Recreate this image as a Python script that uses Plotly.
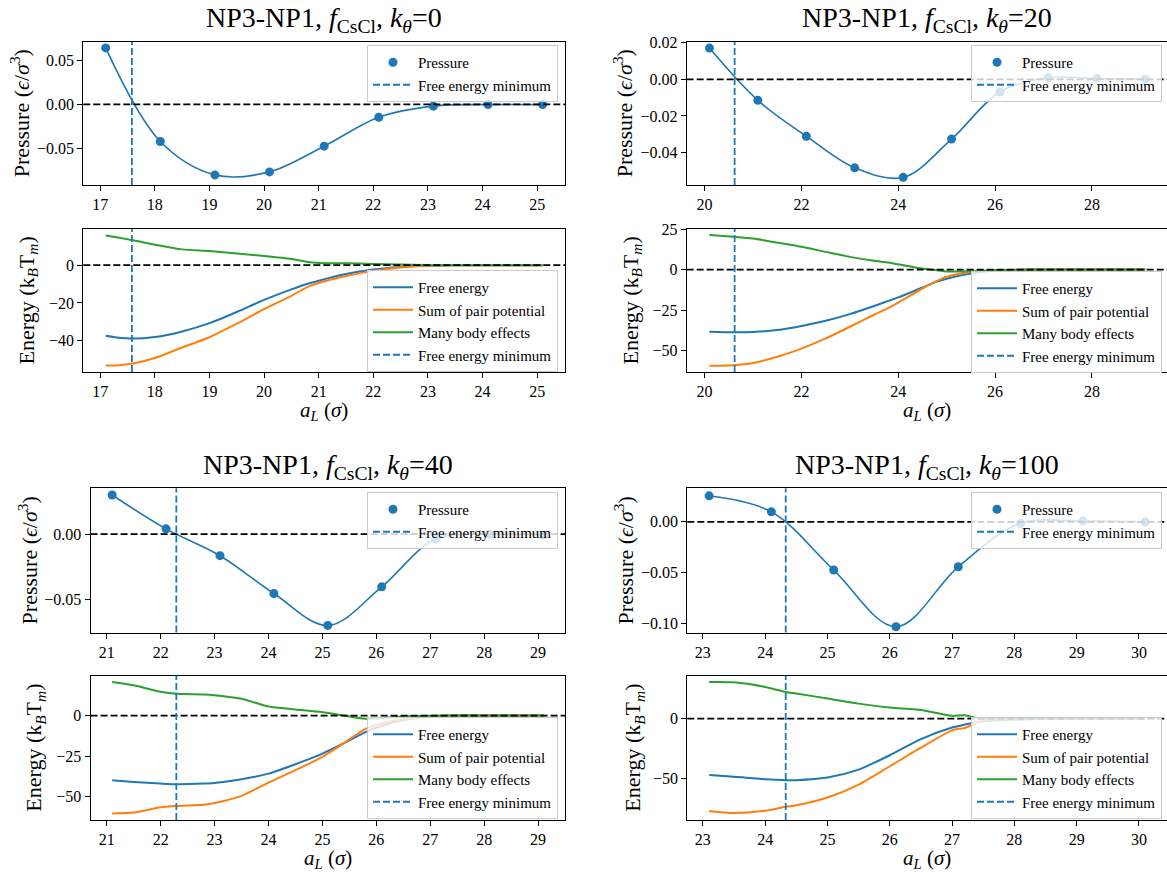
import plotly.graph_objects as go

W, H = 1167, 873
BLUE, ORANGE, GREEN = "#1f77b4", "#ff7f0e", "#2ca02c"
FONT = "'Liberation Serif', 'Times New Roman', serif"

# ---------------- data ----------------
k_theta = ["0", "20", "40", "100"]

# panel 1 (k_theta = 0)
p1_x = [17.1, 18.1, 19.1, 20.1, 21.1, 22.1, 23.1, 24.1, 25.1]
p1_pressure = [0.0637, -0.0419, -0.0796, -0.0762, -0.0472, -0.0145, -0.0020, -0.0003, -0.0003]
p1_min = 17.58
p1_ex = [17.1, 17.3, 17.6, 18.0, 18.5, 19.0, 19.5, 20.0, 20.5, 20.8, 21.0, 21.5, 22.0, 22.5, 23.0, 23.5, 24.0, 24.5, 25.1]
p1_free = [-37.4, -38.3, -38.9, -38.1, -35.1, -30.7, -24.8, -18.4, -12.8, -9.8, -8.2, -4.7, -2.3, -0.9, -0.2, 0.0, 0.0, 0.0, 0.0]
p1_pair = [-53.2, -53.1, -52.1, -49.2, -43.6, -38.2, -31.0, -23.3, -16.2, -11.5, -9.4, -5.7, -3.0, -1.2, -0.3, 0.0, 0.0, 0.0, 0.0]
p1_many = [15.8, 14.8, 13.2, 10.9, 8.4, 7.5, 6.2, 4.9, 3.3, 1.7, 1.2, 1.0, 0.7, 0.35, 0.05, 0.0, 0.0, 0.0, 0.0]

# panel 2 (k_theta = 20)
p2_x = [20.1, 21.1, 22.1, 23.1, 24.1, 25.1, 26.1, 27.1, 28.1, 29.1]
p2_pressure = [0.0171, -0.0115, -0.0311, -0.0484, -0.0536, -0.0327, -0.0069, 0.0009, 0.0004, 0.0001]
p2_min = 20.62
p2_ex = [20.1, 20.6, 21.0, 21.5, 22.0, 22.5, 23.0, 23.5, 23.8, 24.0, 24.5, 24.8, 25.0, 25.5, 26.0, 26.5, 27.0, 28.0, 29.1]
p2_free = [-38.3, -38.7, -38.5, -37.3, -34.8, -31.6, -27.5, -22.5, -19.3, -17.2, -11.1, -7.4, -5.7, -2.5, -0.8, -0.2, 0.0, 0.0, 0.0]
p2_pair = [-59.4, -59.0, -57.6, -53.8, -48.8, -42.5, -35.3, -27.9, -23.6, -20.4, -11.7, -7.0, -4.5, -1.5, -0.4, -0.1, 0.0, 0.0, 0.0]
p2_many = [21.3, 20.2, 19.1, 16.6, 14.0, 10.9, 7.8, 5.4, 4.3, 3.2, 0.6, -0.4, -1.2, -1.0, -0.4, -0.1, 0.0, 0.0, 0.0]

# panel 3 (k_theta = 40)
p3_x = [21.1, 22.1, 23.1, 24.1, 25.1, 26.1, 27.1, 28.1, 29.1]
p3_pressure = [0.0299, 0.0040, -0.0165, -0.0454, -0.0698, -0.0403, -0.0038, -0.0002, -0.0007]
p3_min = 22.29
p3_ex = [21.1, 21.5, 22.0, 22.3, 22.8, 23.0, 23.5, 24.0, 24.5, 25.0, 25.4, 25.8, 26.2, 26.5, 27.0, 27.5, 28.0, 29.1]
p3_free = [-39.8, -40.8, -41.8, -42.2, -41.8, -41.4, -39.1, -35.7, -29.9, -23.4, -17.0, -10.2, -5.2, -2.9, -0.6, 0.0, 0.0, 0.0]
p3_pair = [-60.2, -59.6, -56.4, -55.6, -54.8, -53.8, -49.4, -41.2, -33.6, -25.4, -17.0, -8.2, -4.0, -2.3, -0.5, 0.0, 0.0, 0.0]
p3_many = [20.6, 18.6, 14.6, 13.4, 13.0, 12.5, 10.3, 5.5, 3.7, 2.0, 0.0, -2.0, -1.2, -0.6, -0.1, 0.0, 0.0, 0.0]

# panel 4 (k_theta = 100)
p4_x = [23.1, 24.1, 25.1, 26.1, 27.1, 28.1, 29.1, 30.1]
p4_pressure = [0.0256, 0.0098, -0.0475, -0.1033, -0.0443, -0.0016, 0.0007, 0.0000]
p4_min = 24.33
p4_ex = [23.1, 23.5, 24.0, 24.33, 24.5, 25.0, 25.5, 26.0, 26.5, 27.0, 27.2, 27.4, 27.6, 28.0, 28.5, 29.0, 30.1]
p4_free = [-47.2, -48.6, -50.6, -51.4, -51.4, -49.2, -42.6, -30.6, -17.2, -7.5, -5.0, -3.0, -1.8, -0.8, -0.2, 0.0, 0.0]
p4_pair = [-77.2, -78.9, -76.9, -73.6, -72.4, -65.9, -55.1, -39.8, -24.3, -9.8, -7.8, -3.5, -1.0, -0.2, 0.0, 0.0, 0.0]
p4_many = [30.6, 30.3, 26.4, 22.2, 21.0, 16.7, 12.5, 9.2, 7.1, 2.3, 2.8, 0.5, -0.8, -0.6, -0.2, 0.0, 0.0]

panels = [
    dict(x=p1_x, p=p1_pressure, m=p1_min, ex=p1_ex, fe=p1_free, pp=p1_pair, mb=p1_many),
    dict(x=p2_x, p=p2_pressure, m=p2_min, ex=p2_ex, fe=p2_free, pp=p2_pair, mb=p2_many),
    dict(x=p3_x, p=p3_pressure, m=p3_min, ex=p3_ex, fe=p3_free, pp=p3_pair, mb=p3_many),
    dict(x=p4_x, p=p4_pressure, m=p4_min, ex=p4_ex, fe=p4_free, pp=p4_pair, mb=p4_many),
]

# ---------------- layout geometry (pixels) ----------------
geo = [
    dict(l=83.3, r=565.0, pt=41.7, pb=185.0, et=229.0, eb=372.0, xc=324,
         xr=[16.69, 25.51], xd=1, pr=[-0.091, 0.0707], pd=0.05, er=[-56.6, 19.2], ed=20,
         legx=558, legpy=45, legey=270, pty=20, ety=27),
    dict(l=686.7, r=1167.0, pt=41.7, pb=185.0, et=229.0, eb=372.0, xc=927,
         xr=[19.63, 29.55], xd=2, pr=[-0.0578, 0.0206], pd=0.02, er=[-63.2, 25.0], ed=25,
         legx=1162, legpy=45, legey=271, pty=623, ety=631),
    dict(l=90.6, r=565.0, pt=488.3, pb=632.5, et=675.5, eb=820.0, xc=328,
         xr=[20.7, 29.5], xd=1, pr=[-0.0752, 0.035], pd=0.05, er=[-64.2, 24.6], ed=25,
         legx=558, legpy=492, legey=717, pty=28, ety=35),
    dict(l=687.3, r=1167.0, pt=488.3, pb=632.5, et=675.5, eb=820.0, xc=927,
         xr=[22.75, 30.45], xd=1, pr=[-0.109, 0.033], pd=0.05, er=[-84.7, 36.0], ed=50,
         legx=1162, legpy=492, legey=717, pty=624, ety=634),
]

def fx(p):
    return p / W

def fy(p):
    return 1 - p / H

fig = go.Figure()
layout = dict(width=W, height=H, margin=dict(l=0, r=0, t=0, b=0),
              paper_bgcolor="white", plot_bgcolor="white",
              font=dict(family=FONT, size=15, color="black"),
              annotations=[], shapes=[])

axis_common = dict(showgrid=False, zeroline=False, showline=True, mirror=True,
                   linecolor="black", linewidth=1.1, ticks="outside", ticklen=5,
                   tickwidth=1.1, tickcolor="black", automargin=False,
                   tickfont=dict(family=FONT, size=16, color="black"))

dash = "7px,3px"
TITLE_FS = 28
LAB_FS = 22

for i, (d, g) in enumerate(zip(panels, geo)):
    ip = 2 * i + 1
    ie = 2 * i + 2
    xp = "x" if ip == 1 else f"x{ip}"
    yp = "y" if ip == 1 else f"y{ip}"
    xe, ye = f"x{ie}", f"y{ie}"
    lp = "legend" if ip == 1 else f"legend{ip}"
    le = f"legend{ie}"

    # axes
    xdom = [fx(g["l"]), min(1.0, fx(g["r"]))]
    layout["xaxis" if ip == 1 else f"xaxis{ip}"] = dict(
        axis_common, domain=xdom, anchor=yp, range=g["xr"], dtick=g["xd"], tick0=0)
    layout[f"xaxis{ie}"] = dict(
        axis_common, domain=xdom, anchor=ye, range=g["xr"], dtick=g["xd"], tick0=0)
    layout["yaxis" if ip == 1 else f"yaxis{ip}"] = dict(
        axis_common, domain=[fy(g["pb"]), fy(g["pt"])], anchor=xp,
        range=g["pr"], dtick=g["pd"], tick0=0, tickformat=".2f")
    layout[f"yaxis{ie}"] = dict(
        axis_common, domain=[fy(g["eb"]), fy(g["et"])], anchor=xe,
        range=g["er"], dtick=g["ed"], tick0=0)

    # pressure
    fig.add_trace(go.Scatter(x=d["x"], y=d["p"], mode="lines",
                             line=dict(color=BLUE, width=1.6, shape="spline", smoothing=1.0),
                             showlegend=False, xaxis=xp, yaxis=yp, hoverinfo="skip"))
    fig.add_trace(go.Scatter(x=d["x"], y=d["p"], mode="markers", name="Pressure",
                             marker=dict(size=9, color=BLUE), legend=lp,
                             xaxis=xp, yaxis=yp))
    fig.add_trace(go.Scatter(x=[None], y=[None], mode="lines", name="Free energy minimum",
                             line=dict(color=BLUE, width=1.8, dash=dash), legend=lp,
                             xaxis=xp, yaxis=yp))
    # energy
    for name, key, col in [("Free energy", "fe", BLUE),
                           ("Sum of pair potential", "pp", ORANGE),
                           ("Many body effects", "mb", GREEN)]:
        fig.add_trace(go.Scatter(x=d["ex"], y=d[key], mode="lines", name=name,
                                 line=dict(color=col, width=2, shape="spline", smoothing=0.7),
                                 legend=le, xaxis=xe, yaxis=ye))
    fig.add_trace(go.Scatter(x=[None], y=[None], mode="lines", name="Free energy minimum",
                             line=dict(color=BLUE, width=1.8, dash=dash), legend=le,
                             xaxis=xe, yaxis=ye))

    # reference lines
    for xa, ya in [(xp, yp), (xe, ye)]:
        layout["shapes"].append(dict(type="line", xref=f"{xa} domain", x0=0, x1=1,
                                     yref=ya, y0=0, y1=0, layer="above",
                                     line=dict(color="black", width=1.8, dash=dash)))
        layout["shapes"].append(dict(type="line", xref=xa, x0=d["m"], x1=d["m"],
                                     yref=f"{ya} domain", y0=0, y1=1, layer="above",
                                     line=dict(color=BLUE, width=1.8, dash=dash)))

    # legends
    legcommon = dict(bgcolor="rgba(255,255,255,0.8)", bordercolor="#cccccc", borderwidth=1,
                     xanchor="right", yanchor="top",
                     font=dict(family=FONT, size=15, color="black"),
                     itemwidth=40)
    layout[lp] = dict(legcommon, x=fx(g["legx"]), y=fy(g["legpy"]))
    layout[le] = dict(legcommon, x=fx(g["legx"]), y=fy(g["legey"]))

    # titles and axis labels
    layout["annotations"].append(dict(
        text=f"NP3-NP1, <i>f</i><sub>CsCl</sub>, <i>k</i><sub><i>θ</i></sub>={k_theta[i]}",
        xref="paper", yref="paper", x=fx(g["xc"]),
        y=fy(g["pt"] - 22), xanchor="center", yanchor="middle", showarrow=False,
        font=dict(family=FONT, size=TITLE_FS)))
    layout["annotations"].append(dict(
        text="Pressure (<i>ϵ</i>/<i>σ</i><sup>3</sup>)", textangle=-90,
        xref="paper", yref="paper", x=fx(g["pty"]), y=fy((g["pt"] + g["pb"]) / 2),
        xanchor="center", yanchor="middle", showarrow=False,
        font=dict(family=FONT, size=LAB_FS)))
    layout["annotations"].append(dict(
        text="Energy (k<sub><i>B</i></sub>T<sub><i>m</i></sub>)", textangle=-90,
        xref="paper", yref="paper", x=fx(g["ety"]), y=fy((g["et"] + g["eb"]) / 2),
        xanchor="center", yanchor="middle", showarrow=False,
        font=dict(family=FONT, size=LAB_FS)))
    layout["annotations"].append(dict(
        text="<i>a</i><sub><i>L</i></sub> (<i>σ</i>)",
        xref="paper", yref="paper", x=fx(g["xc"]),
        y=fy(g["eb"] + 39), xanchor="center", yanchor="middle", showarrow=False,
        font=dict(family=FONT, size=21)))

fig.update_layout(**layout)
fig.write_html("out.html")
